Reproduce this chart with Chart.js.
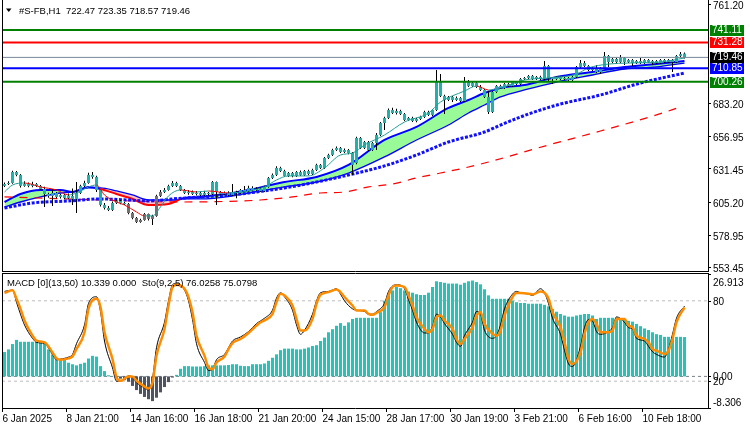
<!DOCTYPE html>
<html><head><meta charset="utf-8">
<script src="https://cdn.jsdelivr.net/npm/chart.js@4.4.1/dist/chart.umd.min.js"></script>
<style>
html,body{margin:0;padding:0;background:#fff;width:750px;height:430px;overflow:hidden}
canvas{position:absolute;left:0}
#main{top:0}
#sub{top:272px}
</style></head><body>
<canvas id="main" width="750" height="272"></canvas>
<canvas id="sub" width="750" height="158"></canvas>
<script>
// ---------------- DATA ----------------
const chartTitle = '#S-FB,H1  722.47 723.35 718.57 719.46';
const subTitle = 'MACD [0](13,50) 10.339 0.000  Sto(9,2,5) 76.0258 75.0798';
const timeLabels = ['6 Jan 2025','8 Jan 21:00','14 Jan 16:00','16 Jan 18:00','21 Jan 20:00','24 Jan 15:00','28 Jan 17:00','30 Jan 19:00','3 Feb 21:00','6 Feb 16:00','10 Feb 18:00'];
const timeLabelBars = [0,16,32,48,64,80,96,112,128,144,160];
const priceTicks = [761.20, 683.20, 656.95, 631.45, 605.20, 578.95, 553.45];
const levels = [741.11, 731.28, 719.46, 710.85, 700.26];

const open = [
617.9,619.4,620.2,628.9,626.6,617.9,619.4,617.9,619.4,617.9,
615.5,611.5,610.0,612.3,609.2,610.8,608.4,610.0,607.6,612.3,
617.9,620.2,626.6,625.0,614.7,602.9,600.5,598.9,604.4,606.0,
604.4,603.6,596.5,592.6,589.4,591.0,595.7,591.8,594.2,610.0,
613.1,614.7,617.9,620.2,617.9,614.7,612.3,613.1,611.5,612.3,
610.8,612.3,611.5,621.0,613.1,611.5,612.3,610.8,613.1,612.3,
614.7,613.9,616.3,614.7,615.5,613.9,617.1,624.2,626.6,632.1,
629.7,625.8,628.1,625.8,628.9,626.6,629.7,627.3,630.5,634.5,
632.1,640.0,642.4,646.3,647.9,644.7,646.3,643.9,636.0,655.8,
647.9,652.6,646.3,651.8,658.2,667.6,671.6,677.9,675.5,677.1,
674.7,670.0,671.6,669.2,670.8,672.4,676.3,674.0,677.9,700.0,
689.0,685.8,688.2,685.8,687.4,685.0,700.0,696.9,699.2,696.1,
693.7,688.2,676.3,692.1,696.9,695.3,698.4,696.9,700.0,698.4,
702.4,703.2,704.8,702.4,704.0,702.4,712.7,703.2,702.4,704.0,
702.4,703.2,701.6,704.0,711.9,715.0,712.7,709.5,711.1,707.9,
711.1,720.6,715.8,718.2,715.8,719.0,715.8,717.4,715.0,716.6,
715.0,717.4,715.8,716.6,715.0,717.4,715.8,717.4,715.8,720.6,
722.47];
const high = [
620.6,621.6,629.8,629.6,627.4,621.5,620.6,621.2,620.2,618.6,
617.2,612.6,615.5,613.1,611.8,611.5,612.0,615.8,621.0,618.8,
622.0,628.4,628.9,626.0,615.2,604.4,602.1,605.6,607.2,606.8,
605.4,604.4,597.3,593.4,592.0,596.5,596.2,595.2,611.0,614.7,
616.3,618.8,621.8,621.2,618.6,615.5,614.7,614.2,613.9,613.4,
614.0,613.1,621.8,621.4,613.9,613.4,613.6,619.4,614.0,615.5,
617.9,618.0,617.6,616.8,616.6,618.0,625.0,627.8,633.4,633.0,
630.6,629.0,628.9,629.7,630.0,630.5,630.6,631.4,635.4,635.2,
640.8,643.4,647.2,649.0,648.7,647.5,647.0,644.7,656.8,656.5,
653.4,653.4,652.6,659.7,668.4,672.6,679.0,679.6,678.8,678.0,
675.5,672.4,672.6,671.8,673.3,677.3,677.3,678.7,709.5,706.3,
690.0,689.0,689.0,688.6,688.2,704.0,701.6,700.8,700.0,697.6,
694.5,693.0,693.0,697.6,697.8,699.2,699.2,700.8,700.8,703.2,
704.0,705.6,705.5,704.8,705.0,716.6,713.5,704.0,704.8,704.8,
704.0,704.0,704.8,712.7,717.4,716.6,713.5,711.9,713.5,711.9,
723.7,721.4,719.0,719.0,721.4,719.8,718.2,718.2,717.4,719.0,
718.2,718.2,717.4,717.4,718.2,718.2,718.2,718.2,721.4,723.7,
723.35];
const low = [
617.0,618.6,619.6,625.6,616.6,617.2,616.8,616.9,617.0,614.6,
601.3,608.6,602.1,608.0,607.9,607.4,607.6,602.9,596.5,611.5,
617.0,619.6,623.6,613.1,601.6,599.2,598.1,598.1,603.6,603.4,
602.8,595.6,591.6,588.6,588.8,590.4,590.6,587.0,593.6,609.2,
612.3,614.0,617.1,617.0,613.9,611.5,611.0,610.7,610.4,609.9,
610.0,610.4,610.8,602.9,610.6,610.8,610.0,610.0,608.2,611.5,
613.1,613.3,614.0,614.0,613.1,613.1,616.4,623.4,625.8,628.9,
625.0,625.0,624.8,625.0,625.8,625.8,626.4,626.6,629.7,631.3,
631.3,639.2,641.6,645.5,644.0,643.9,643.0,626.5,635.0,647.0,
647.1,645.5,645.5,646.3,657.3,662.0,670.8,674.7,674.4,673.9,
669.2,669.2,668.4,668.2,670.0,671.6,673.2,673.2,677.1,688.2,
674.7,685.0,684.2,685.0,684.2,684.2,696.0,696.0,695.3,692.9,
687.4,674.7,675.5,691.3,694.5,694.5,696.0,696.1,697.6,697.6,
701.6,702.4,701.6,701.6,701.6,701.6,700.8,698.4,701.6,701.6,
701.6,700.8,700.8,703.2,711.1,711.9,708.7,708.7,707.1,706.3,
710.3,711.9,715.0,714.2,715.0,713.5,715.0,712.7,714.2,714.2,
714.2,715.0,713.5,714.2,714.2,715.0,715.0,707.9,715.0,719.8,
718.57];
const close = [
619.4,620.2,628.9,626.6,617.9,619.4,617.9,619.4,617.9,615.5,
611.5,610.0,612.3,609.2,610.8,608.4,610.0,607.6,612.3,617.9,
620.2,626.6,625.0,614.7,602.9,600.5,598.9,604.4,606.0,604.4,
603.6,596.5,592.6,589.4,591.0,595.7,591.8,594.2,610.0,613.1,
614.7,617.9,620.2,617.9,614.7,612.3,613.1,611.5,612.3,610.8,
612.3,611.5,621.0,613.1,611.5,612.3,610.8,613.1,612.3,614.7,
613.9,616.3,614.7,615.5,613.9,617.1,624.2,626.6,632.1,629.7,
625.8,628.1,625.8,628.9,626.6,629.7,627.3,630.5,634.5,632.1,
640.0,642.4,646.3,647.9,644.7,646.3,643.9,634.5,655.8,647.9,
652.6,646.3,651.8,658.2,667.6,671.6,677.9,675.5,677.1,674.7,
670.0,671.6,669.2,670.8,672.4,676.3,674.0,677.9,700.0,689.0,
685.8,688.2,685.8,687.4,685.0,700.0,696.9,699.2,696.1,693.7,
688.2,676.3,692.1,696.9,695.3,698.4,696.9,700.0,698.4,702.4,
703.2,704.8,702.4,704.0,702.4,712.7,703.2,702.4,704.0,702.4,
703.2,701.6,704.0,711.9,715.0,712.7,709.5,711.1,707.9,711.1,
720.6,715.8,718.2,715.8,719.0,715.8,717.4,715.0,716.6,715.0,
717.4,715.8,716.6,715.0,717.4,715.8,717.4,715.8,720.6,722.1,
719.46];
const bearishBars = [31,32,33,34,35,36,37,38,39];

// moving averages (bar index -> price)
const ribbonBars = [0,4,9,14,17,21,24,28,32,36,41,43,44,49,57,61,70,78,86,95,103,111,116,120,124,130,138,147,155,163,170];
const ribbonFast = [605.2,611.5,614.7,614.7,613.1,617.1,615.5,611.5,607.6,602.85,603.6,606.0,607.6,609.2,612.3,614.7,621.0,625.0,634.45,654.2,664.5,679.5,685.8,691.3,695.3,697.65,704.0,707.9,711.9,714.2,716.6];
const ribbonSlow = [601.3,605.2,609.2,612.3,613.1,616.3,616.3,613.9,610.75,606.8,606.8,606.8,607.6,607.6,609.96,612.3,617.1,621.0,628.1,640.8,654.2,666.05,675.5,681.85,688.2,693.7,700.0,705.55,710.3,711.9,715.0];
const dotMaBars = [0,7,16,24,31,36,42,49,57,61,70,78,86,95,103,111,120,124,131,139,149,159,170];
const dotMa = [600.5,604.4,606.0,607.6,606.8,606.0,607.6,609.2,610.75,612.3,616.3,621.0,626.55,633.7,642.35,652.6,660.5,666.0,674.7,682.6,689.75,699.2,707.1];
const dashMaBars = [0,24,44,59,64,72,79,85,91,97,103,109,115,121,136,149,163,169];
const dashMa = [609.2,606.8,605.2,606.0,606.8,609.2,612.3,613.1,617.1,619.4,624.2,628.1,632.1,636.8,650.25,661.3,674.0,680.3];
const fastMaBars = [0,2,5,9,13,16,18,21,23,25,28,30,33,35,37,39,41,44,48,51,56,61,65,68,71,76,80,84,87,90,95,100,106,109,115,118,121,124,130,136,143,146,151,156,164,170];
const fastMa = [613.1,618.65,620.2,617.1,614.7,610.75,612.3,617.1,618.65,610.75,605.2,602.85,597.3,594.2,594.2,601.3,610.0,614.7,613.1,613.9,612.3,613.9,617.1,622.6,625.8,625.8,632.1,642.35,643.9,650.25,658.15,668.4,675.5,684.2,692.9,696.9,693.7,695.3,701.6,703.2,706.3,711.1,714.2,715.0,715.8,719.0];

// MACD histogram (one per bar)
const macdHist = [
6.4,7.1,8.5,9.6,9.1,9.1,9.1,9.1,9.1,9.1,
8.7,7.1,5.8,4.9,4.5,4.5,3.6,3.2,2.9,3.3,
3.6,4.7,5.4,5.2,2.7,1.4,0.3,0.05,-0.4,-0.6,
-1.0,-1.4,-2.5,-3.6,-4.6,-5.4,-6.0,-6.5,-5.6,-4.2,
-2.8,-1.5,-0.3,0.4,2.0,2.7,2.7,2.6,2.6,2.6,
2.7,2.9,2.9,2.9,2.9,2.9,3.0,3.2,3.2,2.8,
2.7,2.7,3.2,3.2,3.2,3.4,4.1,4.9,5.8,6.9,
7.3,7.3,7.3,7.1,7.1,7.3,7.6,8.0,8.2,9.3,
10.2,11.6,12.4,13.3,14.0,13.3,14.2,15.1,15.4,15.4,
15.4,15.4,15.4,15.4,16.9,19.9,21.3,22.6,23.5,23.2,
22.6,22.3,22.0,21.6,21.4,21.4,22.0,23.5,25.0,24.8,
24.6,24.4,24.4,24.4,24.1,24.6,25.0,25.2,24.8,24.2,
22.9,21.3,20.4,20.4,20.4,20.4,20.4,19.9,19.5,19.3,
19.3,19.1,19.1,19.1,19.1,18.8,18.4,17.7,17.0,16.4,
16.0,15.7,15.7,16.0,16.2,16.4,16.4,16.0,15.1,15.4,
15.4,15.4,15.4,15.4,15.1,15.1,14.6,14.4,13.8,13.2,
12.6,12.2,11.6,11.1,10.9,10.4,10.4,10.4,10.4,10.4,
10.339];
const macdTop = 26.913, macdBottom = -8.306;

// Stochastic
const stochBars = [
0,2,3,4,5,7,8,10,12,13,
14,16,17,18,20,21,23,24,25,27,
28,29,31,32,33,35,36,37,38,40,
41,42,43,45,46,47,48,50,51,52,
53,55,56,57,59,61,63,64,65,67,
68,69,70,72,73,74,75,77,78,79,
81,83,84,85,87,88,90,91,92,93,
95,96,97,98,100,101,102,103,105,106,
107,108,109,110,112,113,114,115,117,118,
119,120,122,123,124,125,127,128,129,131,
132,134,135,136,137,139,140,141,142,144,
145,146,147,148,149,151,152,153,155,156,
157,158,160,161,162,163,165,166,167,168,
170];
const stochMain = [
87,88,79,70,62,52,49,48,40,36,
36.5,38,40,48,62,78,83,72,50,30,
20,20,24,23,19,15,13.5,22,45,64,
80,92,93,88,80,66,48,34,28,29,
36,40,45,50,53,57,63,65,67,73,
82,86,83,73,62,55,58,70,80,86,
87,89,85,80,74,73,72,70,70,72,
78,87,91,92,89,81,73,64,56,56,
61,70,68,63,55,49,46,54,64,72,
70,58,52,54,62,74,85,87,86,85,
84,89,86,78,67,55,43,33,31,46,
60,66,65,57,55,57,60,68,64,60,
59,52,50,46,42,40,38,44,55,67,
76.03];
const stochSignal = [
85.8,87.8,81.5,74,65.3,54,50.3,49,41.5,37,
36,37,38.5,44,56.5,74,81.5,75.3,56.5,36.5,
22.8,20.3,23.5,23.5,20.3,16,14.5,19,39,59,
76.5,90.3,92,89,82.8,71.5,54,39,30.3,29,
34,38.5,44,48.5,51.5,56,61.5,64,65.3,70.3,
79,85.3,84,76.5,66.5,57.8,57.8,66.5,77.8,84.5,
86.5,88.5,86.5,82.8,76.5,72.8,72.8,70.3,69.5,71,
75.3,84,90.3,91.5,90.3,84,76.5,67.8,59,56.5,
59,67.8,69,65.3,59,51.5,47.8,51.5,60.3,69,
71.5,62.8,55.3,54,57.8,69,82.8,85.8,85.8,85.3,
84.7,87,86,81.5,71.5,60.3,49,36.5,32.8,41.5,
55.3,64,66.5,62.8,56.5,56.5,57.8,66.5,66.5,61.5,
60.3,54,51.5,49,44,42.8,40.3,42.8,51.5,64,
75.08];
const stochLevels = [80, 20];

// ---------------- STYLE ----------------
const FONT = '"Liberation Sans", Arial, sans-serif';
const X_MIN = -0.625, X_MAX = 175.875;
const levelColors = ['#008000', '#FF0000', '#778899', '#0000FF', '#008000'];
const levelWidths = [2, 2, 1, 2, 2];
const levelBoxColors = ['#008000', '#FF0000', '#000000', '#0000FF', '#008000'];
const BULL = '#20B2AA', BEAR = '#707070';
Chart.defaults.font.family = FONT;
Chart.defaults.font.size = 10;
Chart.defaults.color = '#000';

const pts = (xs, ys) => xs.map((x, k) => ({x, y: ys[k]}));
const barIdx = close.map((_, i) => i);
const noPad = s => { s.paddingTop = 0; s.paddingBottom = 0; s.paddingLeft = 0; s.paddingRight = 0; };

// ---------------- MAIN CHART ----------------
const mainDeco = {
  id: 'mainDeco',
  afterDraw(chart) {
    const {ctx, chartArea: a, scales: {y}} = chart;
    ctx.save();
    ctx.strokeStyle = '#000'; ctx.lineWidth = 1;
    ctx.beginPath();
    ctx.moveTo(a.left + 0.5, 0); ctx.lineTo(a.left + 0.5, a.bottom);
    ctx.moveTo(a.right + 0.5, 0); ctx.lineTo(a.right + 0.5, a.bottom);
    ctx.moveTo(a.left, a.bottom - 0.5); ctx.lineTo(a.right + 1, a.bottom - 0.5);
    ctx.stroke();
    ctx.font = '10px ' + FONT; ctx.textBaseline = 'middle'; ctx.textAlign = 'left';
    levels.forEach((v, k) => {
      const py = Math.round(y.getPixelForValue(v));
      ctx.fillStyle = levelBoxColors[k];
      ctx.fillRect(a.right + 2, py - 5, 34, 11);
      ctx.fillStyle = '#fff';
      ctx.fillText(v.toFixed(2), a.right + 4, py + 0.5);
    });
    // title
    ctx.fillStyle = '#000';
    ctx.beginPath(); ctx.moveTo(6, 8.5); ctx.lineTo(11.5, 8.5); ctx.lineTo(8.75, 12); ctx.closePath(); ctx.fill();
    ctx.font = '9.5px ' + FONT;
    ctx.fillText(chartTitle, 19, 11);
    ctx.restore();
  }
};

const levelDatasets = levels.map((v, k) => ({
  type: 'line', data: [{x: X_MIN, y: v}, {x: X_MAX, y: v}],
  borderColor: levelColors[k], borderWidth: levelWidths[k], pointRadius: 0, order: 3
}));

new Chart(document.getElementById('main'), {
  type: 'line',
  data: { datasets: [
    { data: pts(ribbonBars, ribbonFast), borderColor: '#0000FF', borderWidth: 2, pointRadius: 0,
      cubicInterpolationMode: 'monotone',
      fill: { target: '+1', above: '#98FB98', below: '#FFC0CB' },
      segment: { borderColor: c => ribbonFast[c.p0DataIndex] < ribbonSlow[c.p0DataIndex] ? '#FF0000' : '#0000FF' },
      order: 10 },
    { data: pts(ribbonBars, ribbonSlow), borderColor: '#0000FF', borderWidth: 1.3, pointRadius: 0,
      cubicInterpolationMode: 'monotone', fill: false, order: 11 },
    { data: pts(dashMaBars, dashMa), borderColor: '#FF0000', borderWidth: 1.2, borderDash: [8, 7],
      pointRadius: 0, cubicInterpolationMode: 'monotone', fill: false, order: 9 },
    { data: pts(dotMaBars, dotMa), borderColor: '#1010FF', borderWidth: 3, borderDash: [3, 1.6],
      pointRadius: 0, cubicInterpolationMode: 'monotone', fill: false, order: 8 },
    { type: 'bar', data: barIdx.map(i => ({x: i, y: [low[i], high[i]]})),
      backgroundColor: '#000', barThickness: 1, grouped: false, inflateAmount: 0, borderWidth: 0, order: 7 },
    { type: 'bar', data: barIdx.map(i => ({x: i, y: [open[i], close[i]]})),
      backgroundColor: barIdx.map(i => bearishBars.includes(i) ? BEAR : BULL),
      barThickness: 3, grouped: false, minBarLength: 1, inflateAmount: 0, borderWidth: 0, order: 6 },
    { data: pts(fastMaBars, fastMa), borderColor: '#1E9E96', borderWidth: 1, pointRadius: 0,
      cubicInterpolationMode: 'monotone', fill: false,
      segment: { borderColor: c => c.p1.parsed.y < c.p0.parsed.y ? '#FF0000' : '#1E9E96' }, order: 5 },
    ...levelDatasets
  ]},
  options: {
    responsive: false, animation: false, events: [],
    layout: { padding: { left: 2, right: 0, top: 0, bottom: 0 } },
    plugins: { legend: { display: false }, tooltip: { enabled: false }, filler: { drawTime: 'beforeDatasetsDraw' } },
    scales: {
      x: { type: 'linear', min: X_MIN, max: X_MAX, offset: false, display: false, grid: { offset: false } },
      y: { type: 'linear', position: 'right', min: 549.89, max: 764.81, beginAtZero: false,
        afterBuildTicks: s => { s.ticks = priceTicks.map(v => ({value: v})); },
        afterFit: s => { s.width = 42; noPad(s); },
        ticks: { callback: v => Number(v).toFixed(2), padding: 2, labelOffset: 2, autoSkip: false, color: '#000', font: { size: 10 } },
        grid: { display: true, drawOnChartArea: false, drawTicks: true, tickLength: 3, color: '#000' },
        border: { display: false } }
    }
  },
  plugins: [mainDeco]
});

// ---------------- SUB CHART ----------------
const subDeco = {
  id: 'subDeco',
  afterDraw(chart) {
    const {ctx, chartArea: a, scales: {macd, sto}} = chart;
    ctx.save();
    ctx.strokeStyle = '#000'; ctx.lineWidth = 1;
    ctx.beginPath();
    ctx.moveTo(a.left + 0.5, a.top - 1); ctx.lineTo(a.left + 0.5, a.bottom + 1);
    ctx.moveTo(a.right + 0.5, a.top - 1); ctx.lineTo(a.right + 0.5, a.bottom + 1);
    ctx.moveTo(a.left, a.top - 0.5); ctx.lineTo(a.right + 1, a.top - 0.5);
    ctx.moveTo(a.left, a.bottom + 0.5); ctx.lineTo(a.right + 1, a.bottom + 0.5);
    ctx.stroke();
    ctx.font = '9.5px ' + FONT; ctx.textBaseline = 'middle'; ctx.textAlign = 'left'; ctx.fillStyle = '#000';
    ctx.fillText(subTitle, 7, 11.5);
    ctx.font = '10px ' + FONT;
    const items = [
      [macd, macdTop, macdTop.toFixed(3)],
      [sto, stochLevels[0], String(stochLevels[0])],
      [macd, 0, (0).toFixed(2)],
      [sto, stochLevels[1], String(stochLevels[1])],
      [macd, macdBottom, macdBottom.toFixed(3)]
    ];
    items.forEach(([s, v, t]) => {
      const py = s.getPixelForValue(v);
      ctx.beginPath(); ctx.moveTo(a.right, Math.round(py) + 0.5); ctx.lineTo(a.right + 3, Math.round(py) + 0.5); ctx.stroke();
      const ty = Math.min(Math.max(py, a.top + 8), a.bottom - 6);
      ctx.fillText(t, a.right + 5, ty + 1);
    });
    ctx.restore();
  }
};

new Chart(document.getElementById('sub'), {
  type: 'line',
  data: { datasets: [
    ...stochLevels.map(v => ({ data: [{x: X_MIN, y: v}, {x: X_MAX, y: v}], yAxisID: 'sto',
      borderColor: '#BDBDBD', borderWidth: 1, borderDash: [3, 3], pointRadius: 0, order: 30 })),
    { data: [{x: X_MIN, y: 0}, {x: X_MAX, y: 0}], yAxisID: 'macd',
      borderColor: '#7A7F88', borderWidth: 1, borderDash: [3, 3], pointRadius: 0, order: 30 },
    { type: 'bar', yAxisID: 'macd', data: barIdx.map(i => ({x: i, y: macdHist[i]})),
      backgroundColor: macdHist.map(v => v >= 0 ? '#26C3B9' : '#4E5461'),
      barThickness: 3, grouped: false, inflateAmount: 0, borderWidth: 0, order: 20 },
    { data: pts(stochBars, stochMain), yAxisID: 'sto', borderColor: '#000', borderWidth: 1, pointRadius: 0,
      cubicInterpolationMode: 'monotone', fill: false, order: 6 },
    { data: pts(stochBars, stochSignal), yAxisID: 'sto', borderColor: '#FF8C00', borderWidth: 2.5, pointRadius: 0,
      cubicInterpolationMode: 'monotone', fill: false, order: 5 }
  ]},
  options: {
    responsive: false, animation: false, events: [],
    layout: { padding: { left: 2, right: 42, top: 2, bottom: 0 } },
    plugins: { legend: { display: false }, tooltip: { enabled: false } },
    scales: {
      x: { type: 'linear', min: X_MIN, max: X_MAX, offset: false, position: 'bottom',
        afterBuildTicks: s => { s.ticks = timeLabelBars.map(v => ({value: v - 0.5})); },
        afterFit: s => { s.height = 22; noPad(s); },
        ticks: { callback: v => timeLabels[timeLabelBars.indexOf(v + 0.5)], align: 'start', autoSkip: false,
          maxRotation: 0, minRotation: 0, padding: 1, color: '#000', font: { size: 10 } },
        grid: { display: true, drawOnChartArea: false, drawTicks: true, tickLength: 4, color: '#000', offset: false },
        border: { display: false } },
      macd: { type: 'linear', position: 'right', min: macdBottom, max: macdTop, display: false, beginAtZero: false },
      sto: { type: 'linear', position: 'right', min: 0, max: 100, display: false }
    }
  },
  plugins: [subDeco]
});
</script>
</body></html>
